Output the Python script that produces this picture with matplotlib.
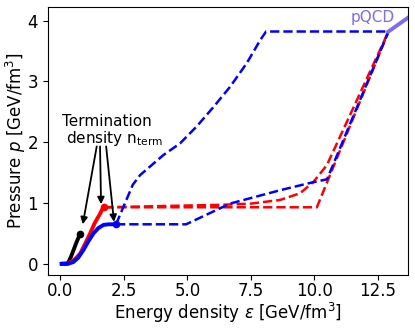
import matplotlib
matplotlib.use("Agg")
import matplotlib.pyplot as plt

# solid low-density curves (GeV/fm^3)
black_e = [0.1, 0.25, 0.32, 0.42, 0.52, 0.62, 0.7, 0.78]
black_p = [0.0, 0.0, 0.03, 0.12, 0.23, 0.34, 0.42, 0.49]

red_e = [0.05, 0.3, 0.5, 0.65, 0.78, 0.95, 1.17, 1.35, 1.57, 1.65, 1.72]
red_p = [0.0, 0.01, 0.05, 0.11, 0.17, 0.31, 0.50, 0.67, 0.83, 0.9, 0.93]

blue_e = [0.05, 0.3, 0.51, 0.7, 0.91, 1.1, 1.3, 1.5, 1.7, 1.9, 2.19]
blue_p = [0.0, 0.0, 0.03, 0.1, 0.23, 0.37, 0.50, 0.59, 0.64, 0.65, 0.65]

# dashed extensions
red_d1_e = [1.72, 10.1, 12.92]
red_d1_p = [0.93, 0.93, 3.82]
red_d2_e = [1.72, 6.3, 7.5, 8.65, 9.44, 9.97, 10.49, 10.89, 12.92]
red_d2_p = [0.93, 0.97, 0.99, 1.05, 1.16, 1.35, 1.62, 1.98, 3.82]

blue_d1_e = [2.19, 4.95, 6.68, 8.65, 9.83, 10.5, 12.92]
blue_d1_p = [0.65, 0.65, 0.99, 1.21, 1.33, 1.39, 3.82]
blue_d2_e = [2.19, 2.85, 3.14, 4.06, 4.71, 5.37, 6.03, 6.68, 7.34, 7.87, 8.1, 12.92]
blue_d2_p = [0.65, 1.30, 1.46, 1.79, 1.98, 2.26, 2.58, 2.91, 3.30, 3.68, 3.82, 3.82]

pqcd_e = [12.92, 14.0]
pqcd_p = [3.82, 4.14]

# arrows: start x (all at p=1.93) and tips
arrow_start_e = [1.43, 1.56, 1.80]
term_e = [0.88, 1.60, 2.11]
term_p = [0.65, 0.98, 0.69]

fig, ax = plt.subplots(figsize=(4.15, 3.29), dpi=100)

ax.plot(red_d1_e, red_d1_p, '--', color='red', lw=1.8)
ax.plot(red_d2_e, red_d2_p, '--', color='red', lw=1.8)
ax.plot(blue_d1_e, blue_d1_p, '--', color='blue', lw=1.8)
ax.plot(blue_d2_e, blue_d2_p, '--', color='blue', lw=1.8)

ax.plot(black_e, black_p, color='black', lw=2.8)
ax.plot(red_e, red_p, color='red', lw=2.8)
ax.plot(blue_e, blue_p, color='blue', lw=2.8)
ax.plot(black_e[-1], black_p[-1], 'o', color='black', ms=4.5)
ax.plot(red_e[-1], red_p[-1], 'o', color='red', ms=4.5)
ax.plot(blue_e[-1], blue_p[-1], 'o', color='blue', ms=4.5)

ax.plot(pqcd_e, pqcd_p, color='#7b6cf0', lw=2.8)
ax.text(13.18, 3.98, 'pQCD', color='#7b6cf0', fontsize=11, ha='right', va='baseline')

ax.text(1.84, 2.27, 'Termination', fontsize=11, ha='center', va='baseline')
ax.text(2.15, 1.99, 'density n$_{\\rm term}$', fontsize=11, ha='center', va='baseline')
for x0, x1, y1 in zip(arrow_start_e, term_e, term_p):
    ax.annotate('', xy=(x1, y1), xytext=(x0, 1.93),
                arrowprops=dict(arrowstyle='-|>', color='black', lw=1.3,
                                mutation_scale=10, shrinkA=0, shrinkB=0))

ax.set_xlim(-0.5, 13.67)
ax.set_ylim(-0.19, 4.23)
ax.set_xticks([0.0, 2.5, 5.0, 7.5, 10.0, 12.5])
ax.set_yticks([0, 1, 2, 3, 4])
ax.tick_params(labelsize=12)
ax.tick_params(axis='x', pad=1.5)
ax.set_xlabel(r'Energy density $\varepsilon$ [GeV/fm$^3$]', fontsize=12)
ax.set_ylabel(r'Pressure $p$ [GeV/fm$^3$]', fontsize=12)
ax.xaxis.set_label_coords(0.5, -0.095)
ax.yaxis.set_label_coords(-0.055, 0.5)

plt.subplots_adjust(left=0.115, right=0.982, top=0.98, bottom=0.163)
plt.savefig('out.png')
